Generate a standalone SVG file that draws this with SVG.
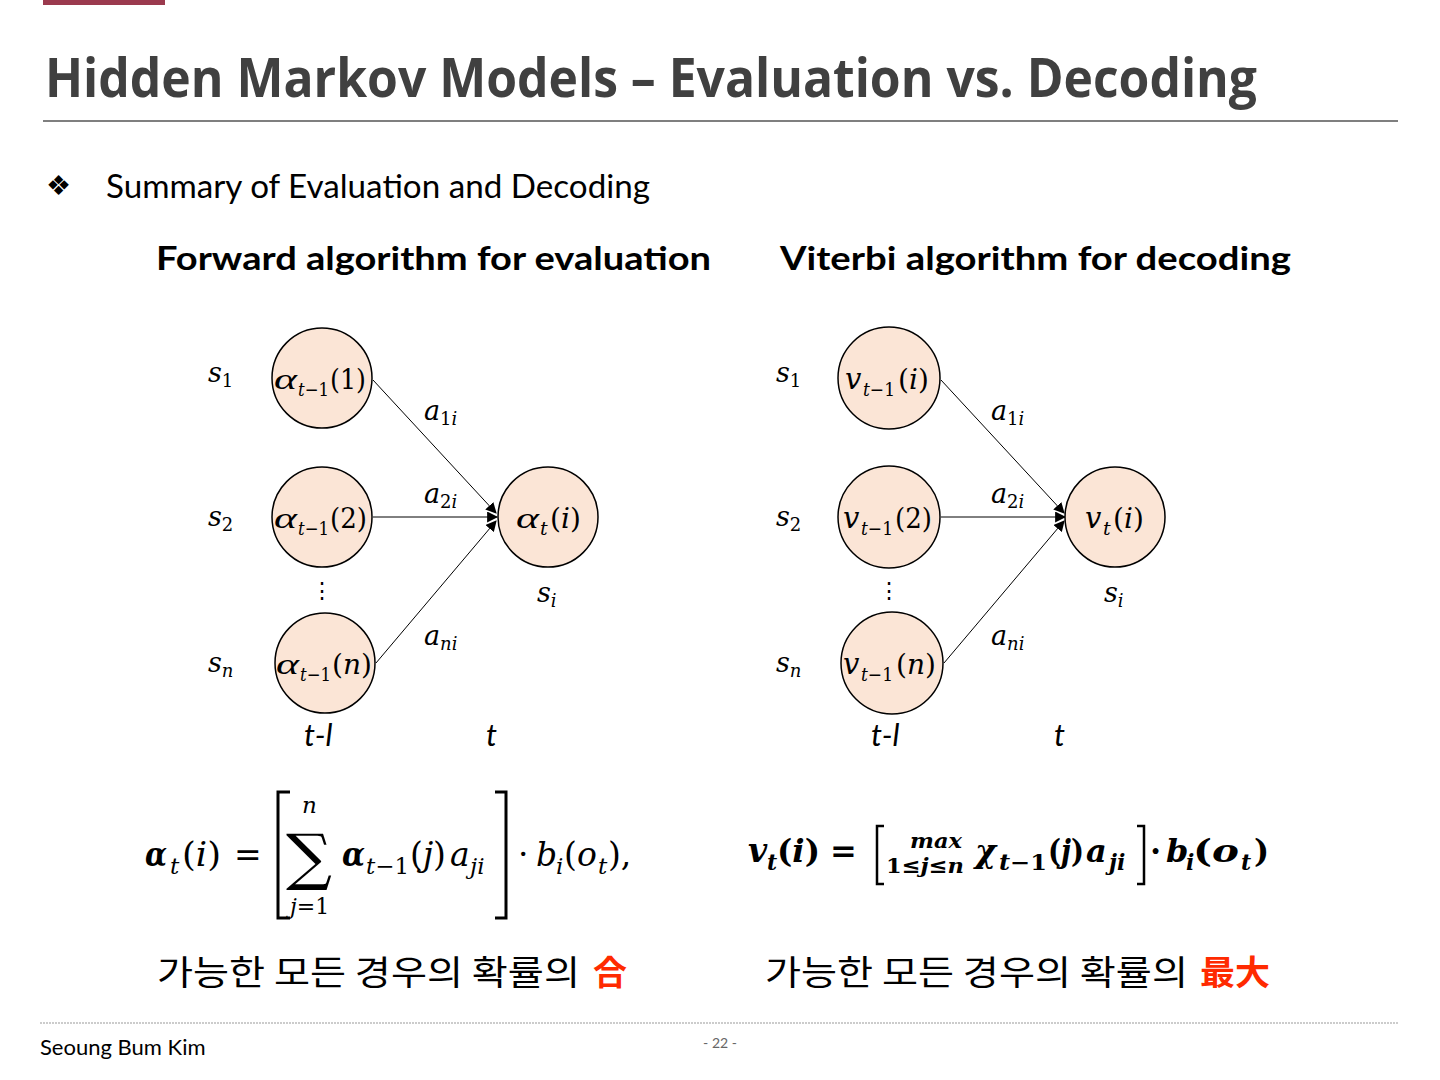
<svg xmlns="http://www.w3.org/2000/svg" width="1440" height="1080" viewBox="0 0 1440 1080">
<defs>
<style>
.title{font-family:"Open Sans","Noto Sans",sans-serif;font-weight:700;font-size:54px;fill:#404040}
.sans{font-family:"Lato","Noto Sans",sans-serif;fill:#000}
.head{font-family:"Lato","Noto Sans",sans-serif;font-weight:700;font-size:33px;fill:#000}
.m{font-family:"DejaVu Serif","Liberation Serif",serif;font-style:italic;fill:#000}
.ml{font-family:"Liberation Serif","DejaVu Serif",serif;font-style:italic;fill:#000}
.mr{font-family:"DejaVu Serif","Liberation Serif",serif;font-style:normal;fill:#000}
.mb{font-family:"DejaVu Serif","Liberation Serif",serif;font-style:italic;font-weight:700;fill:#000}
.mbr{font-family:"DejaVu Serif","Liberation Serif",serif;font-style:normal;font-weight:700;fill:#000}
.node circle{fill:#FBE5D6;stroke:#000;stroke-width:1.5}
.kr{font-family:"Noto Sans CJK KR",sans-serif;font-size:34px;fill:#000}
.red{font-family:"Noto Sans CJK KR",sans-serif;font-size:34px;font-weight:700;fill:#FF2A00}
.edge{stroke:#000;stroke-width:1;fill:none}
</style>
<marker id="arr" viewBox="0 0 10 10" refX="9" refY="5" markerWidth="11" markerHeight="11" markerUnits="userSpaceOnUse" orient="auto">
<path d="M0,0 L10,5 L0,10 z" fill="#000"/>
</marker>
</defs>
<rect width="1440" height="1080" fill="#fff"/>
<rect x="43" y="0" width="122" height="5" fill="#9B3A4E"/>
<text class="title" x="45" y="97" textLength="1212" lengthAdjust="spacingAndGlyphs">Hidden Markov Models – Evaluation vs. Decoding</text>
<line x1="43" y1="121" x2="1398" y2="121" stroke="#000" stroke-width="1.2"/>
<text class="sans" x="46" y="195" font-size="28">❖</text>
<text class="sans" x="106" y="198" font-size="32" textLength="544" lengthAdjust="spacingAndGlyphs">Summary of Evaluation and Decoding</text>
<text class="head" x="156" y="270" textLength="555" lengthAdjust="spacingAndGlyphs">Forward algorithm for evaluation</text>
<text class="head" x="780" y="270" textLength="511" lengthAdjust="spacingAndGlyphs">Viterbi algorithm for decoding</text>

<g id="connectors">
<line class="edge" x1="373" y1="380" x2="496" y2="513" marker-end="url(#arr)"/>
<line class="edge" x1="373" y1="517" x2="497" y2="517" marker-end="url(#arr)"/>
<line class="edge" x1="376" y1="663" x2="496" y2="521" marker-end="url(#arr)"/>
<line class="edge" x1="941" y1="380" x2="1064" y2="513" marker-end="url(#arr)"/>
<line class="edge" x1="941" y1="517" x2="1065" y2="517" marker-end="url(#arr)"/>
<line class="edge" x1="944" y1="663" x2="1064" y2="521" marker-end="url(#arr)"/>
</g>

<g id="left-node-1" class="node"><circle cx="322" cy="378" r="50"/>
<text class="ml" x="274" y="389" font-size="30" textLength="23" lengthAdjust="spacingAndGlyphs">α</text>
<text class="m" x="298" y="396" font-size="19" textLength="31" lengthAdjust="spacingAndGlyphs">t<tspan class="mr">−1</tspan></text>
<text class="mr" x="330" y="389" font-size="28" textLength="36" lengthAdjust="spacingAndGlyphs">(1)</text></g>
<g id="left-node-2" class="node"><circle cx="322" cy="517" r="50"/>
<text class="ml" x="274" y="528" font-size="30" textLength="23" lengthAdjust="spacingAndGlyphs">α</text>
<text class="m" x="298" y="535" font-size="19" textLength="31" lengthAdjust="spacingAndGlyphs">t<tspan class="mr">−1</tspan></text>
<text class="mr" x="330" y="528" font-size="28" textLength="37" lengthAdjust="spacingAndGlyphs">(2)</text></g>
<g id="left-node-n" class="node"><circle cx="325" cy="663" r="50"/>
<text class="ml" x="276" y="674" font-size="30" textLength="23" lengthAdjust="spacingAndGlyphs">α</text>
<text class="m" x="300" y="681" font-size="19" textLength="31" lengthAdjust="spacingAndGlyphs">t<tspan class="mr">−1</tspan></text>
<text class="mr" x="332" y="674" font-size="28">(<tspan class="m">n</tspan>)</text></g>
<g id="left-node-i" class="node"><circle cx="548" cy="517" r="50"/>
<text class="ml" x="516" y="528" font-size="30" textLength="23" lengthAdjust="spacingAndGlyphs">α</text>
<text class="m" x="540" y="535" font-size="19">t</text>
<text class="mr" x="550" y="528" font-size="28">(<tspan class="m">i</tspan>)</text></g>

<g id="right-node-1" class="node"><circle cx="889" cy="378" r="51"/>
<text class="m" x="845" y="389" font-size="29">v</text>
<text class="m" x="863" y="396" font-size="19" textLength="32" lengthAdjust="spacingAndGlyphs">t<tspan class="mr">−1</tspan></text>
<text class="mr" x="898" y="389" font-size="28">(<tspan class="m">i</tspan>)</text></g>
<g id="right-node-2" class="node"><circle cx="889" cy="517" r="51"/>
<text class="m" x="843" y="528" font-size="29">v</text>
<text class="m" x="861" y="535" font-size="19" textLength="32" lengthAdjust="spacingAndGlyphs">t<tspan class="mr">−1</tspan></text>
<text class="mr" x="895" y="528" font-size="28" textLength="37" lengthAdjust="spacingAndGlyphs">(2)</text></g>
<g id="right-node-n" class="node"><circle cx="892" cy="663" r="51"/>
<text class="m" x="843" y="674" font-size="29">v</text>
<text class="m" x="861" y="681" font-size="19" textLength="32" lengthAdjust="spacingAndGlyphs">t<tspan class="mr">−1</tspan></text>
<text class="mr" x="896" y="674" font-size="28">(<tspan class="m">n</tspan>)</text></g>
<g id="right-node-i" class="node"><circle cx="1115" cy="517" r="50"/>
<text class="m" x="1085" y="528" font-size="29">v</text>
<text class="m" x="1103" y="535" font-size="19">t</text>
<text class="mr" x="1113" y="528" font-size="28">(<tspan class="m">i</tspan>)</text></g>

<g id="left-labels">
<text class="m" x="208" y="382" font-size="27">s<tspan class="mr" font-size="18" dy="5">1</tspan></text>
<text class="m" x="208" y="526" font-size="27">s<tspan class="mr" font-size="18" dy="5">2</tspan></text>
<text class="m" x="208" y="672" font-size="27">s<tspan font-size="18" dy="5">n</tspan></text>
<text class="m" x="537" y="602" font-size="27">s<tspan font-size="18" dy="5">i</tspan></text>
<text class="m" x="424" y="420" font-size="27">a<tspan class="mr" font-size="18" dy="5">1</tspan><tspan font-size="18">i</tspan></text>
<text class="m" x="424" y="503" font-size="27">a<tspan class="mr" font-size="18" dy="5">2</tspan><tspan font-size="18">i</tspan></text>
<text class="m" x="424" y="645" font-size="27">a<tspan font-size="18" dy="5">ni</tspan></text>
<text class="mr" x="322" y="598" font-size="22" text-anchor="middle">⋮</text>
<text class="sans" x="304" y="746" font-size="31" font-style="italic">t-l</text>
<text class="sans" x="486" y="746" font-size="31" font-style="italic">t</text>
</g>
<g id="right-labels">
<text class="m" x="776" y="382" font-size="27">s<tspan class="mr" font-size="18" dy="5">1</tspan></text>
<text class="m" x="776" y="526" font-size="27">s<tspan class="mr" font-size="18" dy="5">2</tspan></text>
<text class="m" x="776" y="672" font-size="27">s<tspan font-size="18" dy="5">n</tspan></text>
<text class="m" x="1104" y="602" font-size="27">s<tspan font-size="18" dy="5">i</tspan></text>
<text class="m" x="991" y="420" font-size="27">a<tspan class="mr" font-size="18" dy="5">1</tspan><tspan font-size="18">i</tspan></text>
<text class="m" x="991" y="503" font-size="27">a<tspan class="mr" font-size="18" dy="5">2</tspan><tspan font-size="18">i</tspan></text>
<text class="m" x="991" y="645" font-size="27">a<tspan font-size="18" dy="5">ni</tspan></text>
<text class="mr" x="889" y="598" font-size="22" text-anchor="middle">⋮</text>
<text class="sans" x="871" y="746" font-size="31" font-style="italic">t-l</text>
<text class="sans" x="1054" y="746" font-size="31" font-style="italic">t</text>
</g>

<g id="formula-left">
<text class="mb" x="145" y="866" font-size="34" textLength="22" lengthAdjust="spacingAndGlyphs">α</text>
<text class="m" x="170" y="874" font-size="23">t</text>
<text class="mr" x="182" y="866" font-size="33" textLength="39" lengthAdjust="spacingAndGlyphs">(<tspan class="m">i</tspan>)</text>
<text class="mr" x="234" y="866" font-size="33">=</text>
<path d="M290,792 H278 V918 H290 M495,792 H506 V918 H495" fill="none" stroke="#000" stroke-width="3"/>
<text class="mr" x="286" y="878" font-size="62" textLength="46" lengthAdjust="spacingAndGlyphs">∑</text>
<text class="m" x="302" y="813" font-size="23">n</text>
<text class="m" x="290" y="914" font-size="22">j<tspan class="mr">=1</tspan></text>
<text class="mb" x="342" y="866" font-size="34" textLength="23" lengthAdjust="spacingAndGlyphs">α</text>
<text class="m" x="366" y="874" font-size="23" textLength="43" lengthAdjust="spacingAndGlyphs">t<tspan class="mr">−1</tspan></text>
<text class="mr" x="410" y="866" font-size="33">(<tspan class="m">j</tspan>)</text>
<text class="m" x="450" y="866" font-size="33">a</text>
<text class="m" x="470" y="874" font-size="23">ji</text>
<text class="mr" x="518" y="866" font-size="33">·</text>
<text class="m" x="536" y="866" font-size="33">b</text>
<text class="m" x="556" y="874" font-size="23">i</text>
<text class="mr" x="564" y="866" font-size="33">(<tspan class="m">o</tspan></text>
<text class="m" x="598" y="874" font-size="23">t</text>
<text class="mr" x="608" y="866" font-size="33">),</text>
</g>

<g id="formula-right">
<text class="mb" x="748" y="862" font-size="33">v</text>
<text class="mb" x="767" y="870" font-size="22">t</text>
<text class="mbr" x="777" y="862" font-size="32" textLength="43" lengthAdjust="spacingAndGlyphs">(<tspan class="mb">i</tspan>)</text>
<text class="mbr" x="830" y="862" font-size="32">=</text>
<path d="M884,826 H877 V884 H884 M1137,826 H1144 V884 H1137" fill="none" stroke="#000" stroke-width="2.5"/>
<text class="mb" x="910" y="848" font-size="21" textLength="52" lengthAdjust="spacingAndGlyphs">max</text>
<text class="mbr" x="886" y="873" font-size="21" textLength="78" lengthAdjust="spacingAndGlyphs">1≤<tspan class="mb">j</tspan>≤<tspan class="mb">n</tspan></text>
<text class="mb" x="975" y="862" font-size="32">χ</text>
<text class="mb" x="999" y="870" font-size="22" textLength="48" lengthAdjust="spacingAndGlyphs">t<tspan class="mbr">−1</tspan></text>
<text class="mbr" x="1048" y="862" font-size="32" textLength="36" lengthAdjust="spacingAndGlyphs">(<tspan class="mb">j</tspan>)</text>
<text class="mb" x="1086" y="862" font-size="32">a</text>
<text class="mb" x="1109" y="870" font-size="22">ji</text>
<text class="mbr" x="1150" y="862" font-size="32">·</text>
<text class="mb" x="1166" y="862" font-size="32">b</text>
<text class="mb" x="1186" y="870" font-size="22">i</text>
<text class="mbr" x="1193" y="862" font-size="32" textLength="46" lengthAdjust="spacingAndGlyphs">(<tspan class="mb">o</tspan></text>
<text class="mb" x="1241" y="870" font-size="22">t</text>
<text class="mbr" x="1254" y="862" font-size="32">)</text>
</g>

<text class="kr" x="157" y="985" textLength="423" lengthAdjust="spacingAndGlyphs">가능한 모든 경우의 확률의</text>
<text class="red" x="593" y="985">合</text>
<text class="kr" x="765" y="985" textLength="423" lengthAdjust="spacingAndGlyphs">가능한 모든 경우의 확률의</text>
<text class="red" x="1200" y="985" textLength="70" lengthAdjust="spacingAndGlyphs">最大</text>

<line x1="40" y1="1023" x2="1398" y2="1023" stroke="#999" stroke-width="1" stroke-dasharray="2,1"/>
<text class="sans" x="40" y="1055" font-size="22">Seoung Bum Kim</text>
<text class="sans" x="720" y="1048" font-size="14" text-anchor="middle" style="fill:#666">- 22 -</text>
</svg>
